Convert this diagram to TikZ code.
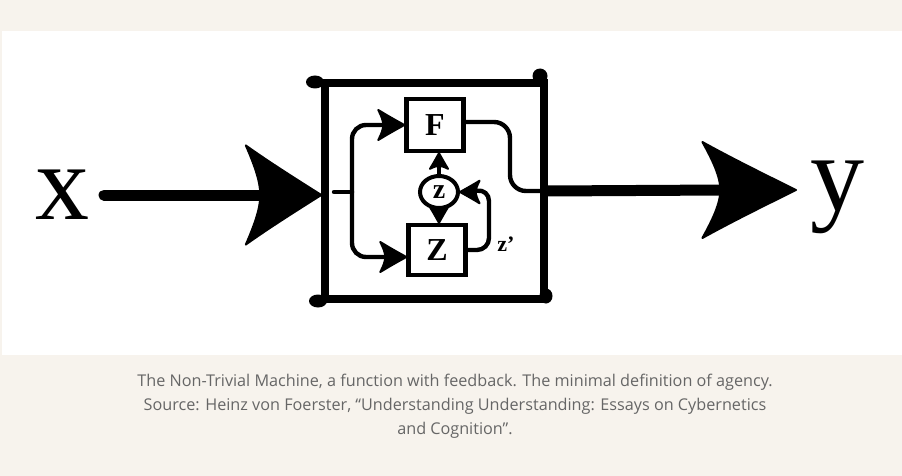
\documentclass[tikz,border=0pt]{standalone}
\usepackage{fontspec}
\usetikzlibrary{shapes.geometric,calc}
\newfontfamily\dfont{Liberation Serif}
\newfontfamily\cfont{Open Sans}
\definecolor{bgc}{HTML}{F7F3ED}
\definecolor{capc}{HTML}{666666}
\tikzset{
  barb/.pic={\fill[draw,line width=2pt,line join=round]
    (0,0) .. controls (-9,-5) and (-18,-10) .. (-26,-15)
    .. controls (-23,-9) and (-21,-4) .. (-21,0)
    .. controls (-21,4) and (-23,9) .. (-26,15)
    .. controls (-18,10) and (-9,5) .. (0,0) -- cycle;},
  inner/.style={line width=4.4pt,line cap=round},
  heavy/.style={line width=11pt,line cap=round},
  boxn/.style={draw,line width=4.4pt,inner sep=0pt,font=\dfont\bfseries\fontsize{32}{32}\selectfont},
  caption/.style={anchor=base,text=capc,font=\cfont\fontsize{16.2}{19}\selectfont},
  big/.style={font=\dfont\fontsize{108}{108}\selectfont,anchor=base,inner sep=0pt}
}
\begin{document}
\begin{tikzpicture}[x=1pt,y=-1pt]
\fill[bgc] (0,0) rectangle (902,476);
\fill[white] (2,31) rectangle (902,355);
\useasboundingbox (0,0) rectangle (902,476);

% outer machine box
\node[draw,line width=7.5pt,minimum width=219pt,minimum height=216pt,inner sep=0pt] (M) at (434.5,191) {};
\fill (315,82) ellipse (9pt and 6.5pt);
\fill (540,76) ellipse (7.5pt and 7.5pt);
\fill (318,301) ellipse (9pt and 6.5pt);
\fill (546,296) ellipse (6.5pt and 7.5pt);

% letters
\node[big] (xlab) at (62,219) {x};
\node[big] (ylab) at (837,210) {y};

% inner nodes
\node[boxn,minimum width=57pt,minimum height=52pt] (F) at (435,125) {F};
\node[boxn,minimum width=57pt,minimum height=50pt] (Z) at (437,250) {Z};
\node[draw,ellipse,line width=4pt,minimum width=38pt,minimum height=32pt,inner sep=0pt,font=\dfont\bfseries\fontsize{28}{28}\selectfont] (zc) at (439,192) {z};
\node[font=\dfont\bfseries\fontsize{22}{22}\selectfont,inner sep=0pt] (zp) at (506,244) {z’};

% input
\coordinate (in0) at (104,195);
\draw[heavy] (in0) -- ($(in0 -| M.west)+(-58,0)$);
\pic[xscale=2.9,yscale=3.3] at (in0 -| M.west) {barb};

% split inside
\coordinate (sp) at (334,192);
\coordinate (sj) at (352,192);
\draw[inner] (sp) -- (sj);
\draw[inner,rounded corners=14pt] (sj) -- (352,125) -- ([xshift=-10pt]F.west);
\draw[inner,rounded corners=14pt] (sj) -- (352,257) -- ([xshift=-10pt]Z.west |- 0,257);
\pic at (F.west) {barb};
\pic at (Z.west |- 0,257) {barb};

% F output
\draw[inner,rounded corners=16pt] (F.east |- 0,122) -- (510,122) -- (510,191) -- (M.east);
\coordinate (yout) at (796,190);
\draw[heavy] (M.east) -- ($(yout)+(-72,0)$);
\pic[xscale=3.6,yscale=3.2] at (yout) {barb};

% z to F and Z
\draw[inner] (zc.north) -- ([yshift=-6pt]zc.north |- F.south);
\pic[rotate=90,scale=0.6] at (zc.north |- F.south) {barb};
\draw[inner] (zc.south) -- ([yshift=6pt]zc.south |- Z.north);
\pic[rotate=-90,scale=0.6] at (zc.south |- Z.north) {barb};

% feedback z'
\draw[inner,rounded corners=12pt] (Z.east) -- (489,250) -- (489,189) -- ([xshift=8pt]zc.east);
\pic[rotate=180,scale=0.75] at (zc.east) {barb};

% caption
\node[caption] (c1) at (455,386) {The Non-Trivial Machine, a function with feedback. The minimal definition of agency.};
\node[caption] (c2) at (455,410) {Source: Heinz von Foerster, “Understanding Understanding: Essays on Cybernetics};
\node[caption] (c3) at (455,434) {and Cognition”.};
\end{tikzpicture}
\end{document}
